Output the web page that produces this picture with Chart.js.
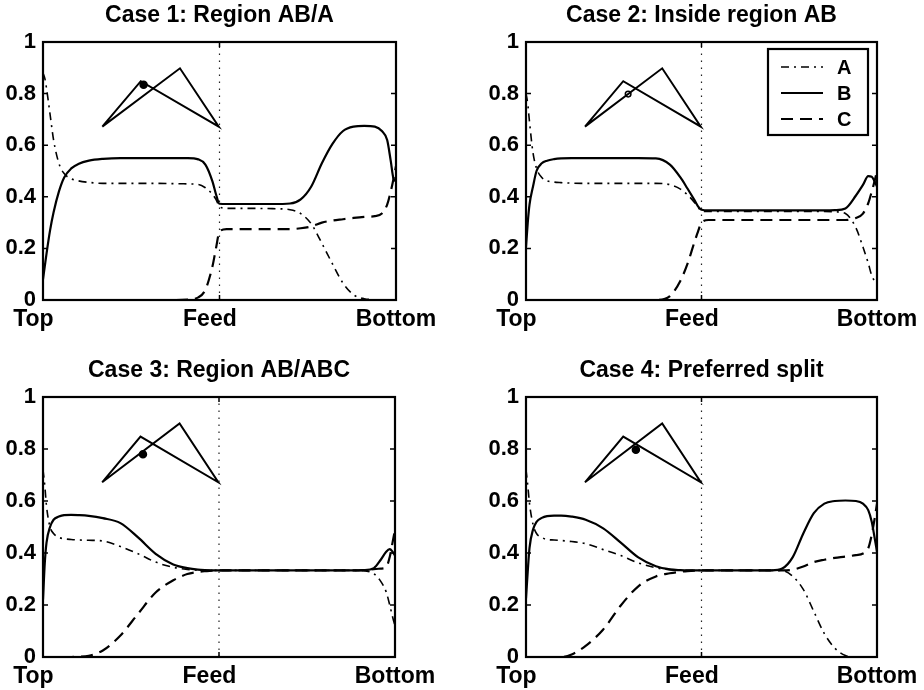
<!DOCTYPE html>
<html>
<head>
<meta charset="utf-8">
<script src="https://cdn.jsdelivr.net/npm/chart.js@4.4.1/dist/chart.umd.min.js"></script>
<style>
  html, body { margin: 0; padding: 0; background: #fff; }
  #wrap { position: relative; width: 924px; height: 690px; background: #fff; overflow: hidden; }
  canvas { position: absolute; }
</style>
</head>
<body>
<div id="wrap">
  <canvas id="c1" width="462" height="345" style="left:0px;top:0px;width:462px;height:345px"></canvas>
  <canvas id="c2" width="462" height="345" style="left:462px;top:0px;width:462px;height:345px"></canvas>
  <canvas id="c3" width="462" height="335" style="left:0px;top:355px;width:462px;height:335px"></canvas>
  <canvas id="c4" width="462" height="335" style="left:462px;top:355px;width:462px;height:335px"></canvas>
</div>
<script>
// ---------- DATA ----------
// column position (0 = Top, 0.5 = Feed, 1 = Bottom)
const pos = [0, 0.005, 0.01, 0.02, 0.03, 0.045, 0.06, 0.08, 0.1, 0.13, 0.17, 0.22, 0.27, 0.32, 0.37, 0.41, 0.44, 0.46, 0.48, 0.49, 0.5, 0.52, 0.56, 0.6, 0.65, 0.7, 0.73, 0.76, 0.79, 0.82, 0.85, 0.88, 0.91, 0.94, 0.96, 0.975, 0.985, 0.993, 1];

const titles = ['Case 1: Region AB/A', 'Case 2: Inside region AB', 'Case 3: Region AB/ABC', 'Case 4: Preferred split'];
const seriesNames = ['A', 'B', 'C'];

const case1A = [0.88, 0.86, 0.82, 0.72, 0.62, 0.53, 0.49, 0.47, 0.462, 0.456, 0.452, 0.452, 0.452, 0.452, 0.451, 0.45, 0.448, 0.435, 0.41, 0.39, 0.362, 0.355, 0.355, 0.355, 0.354, 0.35, 0.335, 0.295, 0.22, 0.14, 0.065, 0.02, 0.005, 0.001, 0, 0, 0, 0, 0];
const case1B = [0.08, 0.13, 0.18, 0.27, 0.34, 0.42, 0.475, 0.51, 0.527, 0.54, 0.547, 0.55, 0.55, 0.55, 0.55, 0.55, 0.545, 0.525, 0.46, 0.41, 0.373, 0.372, 0.372, 0.372, 0.372, 0.374, 0.39, 0.44, 0.53, 0.605, 0.655, 0.672, 0.675, 0.672, 0.655, 0.62, 0.54, 0.47, 0.46];
const case1C = [0, 0, 0, 0, 0, 0, 0, 0, 0, 0, 0, 0, 0, 0, 0, 0.002, 0.01, 0.04, 0.13, 0.2, 0.265, 0.275, 0.275, 0.275, 0.275, 0.275, 0.278, 0.285, 0.3, 0.308, 0.313, 0.318, 0.322, 0.325, 0.335, 0.37, 0.42, 0.47, 0.52];

const case2A = [0.8, 0.76, 0.69, 0.57, 0.51, 0.475, 0.462, 0.457, 0.455, 0.453, 0.452, 0.452, 0.452, 0.452, 0.452, 0.447, 0.43, 0.408, 0.378, 0.36, 0.345, 0.343, 0.343, 0.343, 0.343, 0.343, 0.343, 0.343, 0.343, 0.343, 0.343, 0.342, 0.335, 0.28, 0.205, 0.143, 0.095, 0.075, 0.07];
const case2B = [0.205, 0.3, 0.37, 0.44, 0.5, 0.53, 0.54, 0.546, 0.549, 0.55, 0.55, 0.55, 0.55, 0.55, 0.549, 0.525, 0.475, 0.432, 0.387, 0.363, 0.35, 0.347, 0.347, 0.347, 0.347, 0.347, 0.347, 0.347, 0.347, 0.347, 0.347, 0.348, 0.355, 0.405, 0.446, 0.48, 0.478, 0.46, 0.44];
const case2C = [0, 0, 0, 0, 0, 0, 0, 0, 0, 0, 0, 0, 0, 0, 0, 0.015, 0.075, 0.14, 0.225, 0.265, 0.3, 0.31, 0.31, 0.31, 0.31, 0.31, 0.31, 0.31, 0.31, 0.31, 0.31, 0.31, 0.31, 0.318, 0.335, 0.375, 0.42, 0.46, 0.5];

const case3A = [0.72, 0.66, 0.58, 0.5, 0.475, 0.46, 0.455, 0.452, 0.45, 0.449, 0.446, 0.425, 0.397, 0.365, 0.345, 0.337, 0.334, 0.333, 0.333, 0.333, 0.333, 0.333, 0.333, 0.333, 0.333, 0.333, 0.333, 0.333, 0.333, 0.333, 0.333, 0.333, 0.332, 0.32, 0.29, 0.25, 0.2, 0.155, 0.12];
const case3B = [0.22, 0.36, 0.44, 0.5, 0.528, 0.54, 0.546, 0.547, 0.546, 0.543, 0.534, 0.515, 0.46, 0.397, 0.356, 0.342, 0.336, 0.334, 0.333, 0.333, 0.333, 0.333, 0.333, 0.333, 0.333, 0.333, 0.333, 0.333, 0.333, 0.333, 0.333, 0.333, 0.334, 0.342, 0.375, 0.405, 0.415, 0.405, 0.39];
const case3C = [0, 0, 0, 0, 0, 0, 0, 0, 0.001, 0.005, 0.025, 0.083, 0.166, 0.248, 0.295, 0.319, 0.327, 0.33, 0.332, 0.333, 0.333, 0.333, 0.333, 0.333, 0.333, 0.333, 0.333, 0.333, 0.333, 0.333, 0.333, 0.333, 0.334, 0.338, 0.34, 0.345, 0.385, 0.44, 0.49];

const case4A = [0.72, 0.66, 0.59, 0.51, 0.475, 0.46, 0.452, 0.45, 0.448, 0.444, 0.436, 0.413, 0.39, 0.362, 0.343, 0.336, 0.334, 0.333, 0.333, 0.333, 0.333, 0.333, 0.333, 0.333, 0.333, 0.333, 0.332, 0.31, 0.26, 0.175, 0.09, 0.034, 0.006, 0, 0, 0, 0, 0, 0];
const case4B = [0.225, 0.33, 0.42, 0.49, 0.52, 0.535, 0.542, 0.544, 0.544, 0.54, 0.528, 0.495, 0.44, 0.383, 0.349, 0.337, 0.334, 0.333, 0.333, 0.333, 0.333, 0.333, 0.333, 0.333, 0.333, 0.333, 0.34, 0.384, 0.475, 0.553, 0.59, 0.6, 0.602, 0.6, 0.59, 0.565, 0.52, 0.46, 0.405];
const case4C = [0, 0, 0, 0, 0, 0, 0, 0, 0, 0.01, 0.043, 0.106, 0.198, 0.272, 0.31, 0.322, 0.328, 0.33, 0.332, 0.333, 0.333, 0.333, 0.333, 0.333, 0.333, 0.333, 0.333, 0.336, 0.348, 0.365, 0.374, 0.381, 0.386, 0.392, 0.398, 0.418, 0.47, 0.53, 0.59];

// inset sketch (two column profiles), in data units: left, peak1, right, peak2, left
const sketchX = [0.168, 0.277, 0.498, 0.388, 0.168];
const sketchY = [0.672, 0.848, 0.672, 0.898, 0.672];
// operating point marker per case
const markX = [0.285, 0.291, 0.284, 0.313];
const markY = [0.834, 0.798, 0.78, 0.797];
const markFilled = [true, false, true, true];

// feed line
const feedX = [0.5, 0.5];
const feedY = [0, 1];

// ticks
const xTickValues = [0, 0.5, 1];
const xTickLabels = ['Top', 'Feed', 'Bottom'];
const yTickValues = [0, 0.2, 0.4, 0.6, 0.8, 1];
const yTickLabels = ['0', '0.2', '0.4', '0.6', '0.8', '1'];

const caseData = [
  [case1A, case1B, case1C],
  [case2A, case2B, case2C],
  [case3A, case3B, case3C],
  [case4A, case4B, case4C]
];

// ---------- STYLE / LAYOUT ----------
const FONT = '"Liberation Sans", Arial, Helvetica, sans-serif';
Chart.defaults.font.family = FONT;
Chart.defaults.font.weight = 'bold';
Chart.defaults.color = '#000';

const seriesStyle = [
  { borderDash: [8, 5, 2, 5], borderWidth: 1.6 },
  { borderDash: [], borderWidth: 2.2 },
  { borderDash: [12, 7], borderWidth: 2.2 }
];
// trailing padding so that labels sit slightly left of their tick, as in the original
const xLabelTrail = ['   ', '   ', ''];

const panels = [
  { id: 'c1', yW: 43, xH: 45, padR: 66 },
  { id: 'c2', yW: 64, xH: 45, padR: 47 },
  { id: 'c3', yW: 43, xH: 33, padR: 67 },
  { id: 'c4', yW: 64, xH: 33, padR: 47 }
];

const zip = (xs, ys) => xs.map((x, i) => ({ x: x, y: ys[i] }));

const framePlugin = {
  id: 'frame',
  afterDatasetsDraw(chart) {
    const { ctx, chartArea: a, scales } = chart;
    const xs = scales.x, ys = scales.y;
    ctx.save();
    ctx.setLineDash([]);
    ctx.strokeStyle = '#000';
    ctx.lineWidth = 1.5;
    ctx.beginPath();
    ys.ticks.forEach(t => {
      const py = ys.getPixelForValue(t.value);
      ctx.moveTo(a.left, py); ctx.lineTo(a.left + 5, py);
      ctx.moveTo(a.right, py); ctx.lineTo(a.right - 5, py);
    });
    xs.ticks.forEach(t => {
      const px = xs.getPixelForValue(t.value);
      ctx.moveTo(px, a.bottom); ctx.lineTo(px, a.bottom - 5);
      ctx.moveTo(px, a.top); ctx.lineTo(px, a.top + 5);
    });
    ctx.stroke();
    ctx.lineWidth = 2.2;
    ctx.strokeRect(a.left, a.top, a.right - a.left, a.bottom - a.top);
    ctx.restore();
  }
};

const legendPlugin = {
  id: 'boxLegend',
  afterDraw(chart) {
    const { ctx, chartArea: a } = chart;
    const w = 100, h = 86;
    const bx = a.right - 9 - w, by = a.top + 7;
    ctx.save();
    ctx.fillStyle = '#fff';
    ctx.fillRect(bx, by, w, h);
    ctx.strokeStyle = '#000';
    ctx.lineWidth = 2.2;
    ctx.setLineDash([]);
    ctx.strokeRect(bx, by, w, h);
    ctx.font = 'bold 20px ' + FONT;
    ctx.textBaseline = 'middle';
    ctx.textAlign = 'left';
    ctx.fillStyle = '#000';
    for (let i = 0; i < 3; i++) {
      const ds = chart.data.datasets[i];
      const y = by + 18 + i * 26;
      ctx.beginPath();
      ctx.setLineDash(ds.borderDash || []);
      ctx.lineWidth = ds.borderWidth;
      ctx.moveTo(bx + 13, y);
      ctx.lineTo(bx + 55, y);
      ctx.stroke();
      ctx.setLineDash([]);
      ctx.fillText(ds.label, bx + 69, y + 1);
    }
    ctx.restore();
  }
};

panels.forEach((p, k) => {
  const datasets = seriesNames.map((name, s) => ({
    label: name,
    data: zip(pos, caseData[k][s]),
    borderColor: '#000',
    backgroundColor: '#000',
    borderDash: seriesStyle[s].borderDash,
    borderWidth: seriesStyle[s].borderWidth,
    pointRadius: 0,
    cubicInterpolationMode: 'monotone',
    fill: false
  }));
  datasets.push({
    label: 'feed',
    data: zip(feedX, feedY),
    borderColor: '#222',
    borderDash: [1.5, 5.5],
    borderWidth: 1.2,
    pointRadius: 0,
    tension: 0,
    fill: false
  });
  datasets.push({
    label: 'sketch',
    data: zip(sketchX, sketchY),
    borderColor: '#000',
    borderWidth: 2,
    pointRadius: 0,
    tension: 0,
    fill: false
  });
  datasets.push({
    label: 'point',
    data: [{ x: markX[k], y: markY[k] }],
    showLine: false,
    pointRadius: markFilled[k] ? 3.5 : 2.8,
    pointBorderWidth: 1.5,
    pointBorderColor: '#000',
    pointBackgroundColor: markFilled[k] ? '#000' : '#fff',
    borderColor: '#000'
  });

  new Chart(document.getElementById(p.id), {
    type: 'line',
    data: { datasets: datasets },
    options: {
      responsive: false,
      animation: false,
      devicePixelRatio: 1,
      layout: { padding: { left: 0, right: p.padR, top: 0, bottom: 0 } },
      plugins: {
        legend: { display: false },
        tooltip: { enabled: false },
        title: {
          display: true,
          text: titles[k],
          fullSize: false,
          color: '#000',
          font: { size: 23, weight: 'bold', lineHeight: 1.2 },
          padding: { top: 1.8, bottom: 12.6 }
        }
      },
      scales: {
        x: {
          type: 'linear',
          min: 0, max: 1,
          afterBuildTicks: s => { s.ticks = xTickValues.map(v => ({ value: v })); },
          afterFit: s => { s.height = p.xH; },
          grid: { display: false, drawTicks: false },
          border: { display: false },
          ticks: {
            autoSkip: false, maxRotation: 0, padding: 6,
            font: { size: 23, weight: 'bold' }, color: '#000',
            callback: (v, i) => xTickLabels[i] + xLabelTrail[i]
          }
        },
        y: {
          type: 'linear',
          min: 0, max: 1,
          afterBuildTicks: s => { s.ticks = yTickValues.map(v => ({ value: v })); },
          afterFit: s => { s.width = p.yW; },
          grid: { display: false, drawTicks: false },
          border: { display: false },
          ticks: {
            padding: 7,
            font: { size: 22, weight: 'bold' }, color: '#000',
            callback: (v, i) => yTickLabels[i]
          }
        }
      }
    },
    plugins: k === 1 ? [framePlugin, legendPlugin] : [framePlugin]
  });
});
</script>
</body>
</html>
